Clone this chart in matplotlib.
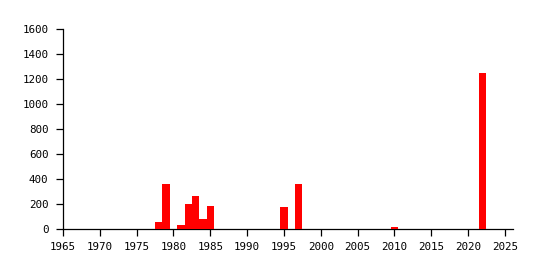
import matplotlib
matplotlib.use("Agg")
import matplotlib.pyplot as plt

# yearly counts
years = [1978, 1979, 1981, 1982, 1983, 1984, 1985, 1995, 1997, 2010, 2022, 2024]
counts = [56, 360, 32, 200, 264, 80, 184, 176, 360, 16, 1248, 3]

x_ticks = list(range(1965, 2026, 5))
y_ticks = list(range(0, 1601, 200))

fig = plt.figure(figsize=(5.41, 2.70), dpi=100)
ax = fig.add_axes([63/541, 41/270, 450/541, 200/270])

ax.bar(years, counts, width=1.0, color="#ff0000", align="center", zorder=3)

ax.set_xlim(1965, 2026.1)
ax.set_ylim(0, 1600)
ax.set_xticks(x_ticks)
ax.set_yticks(y_ticks)

for side in ["top", "right"]:
    ax.spines[side].set_visible(False)
for side in ["left", "bottom"]:
    ax.spines[side].set_linewidth(0.9)

ax.tick_params(direction="out", length=5, width=0.9,
               labelsize=7.8, colors="black")
ax.tick_params(axis="y", pad=5.5)
ax.tick_params(axis="x", pad=4)
for lab in ax.get_xticklabels() + ax.get_yticklabels():
    lab.set_family("DejaVu Sans Mono")

fig.savefig("out.png", dpi=100)
